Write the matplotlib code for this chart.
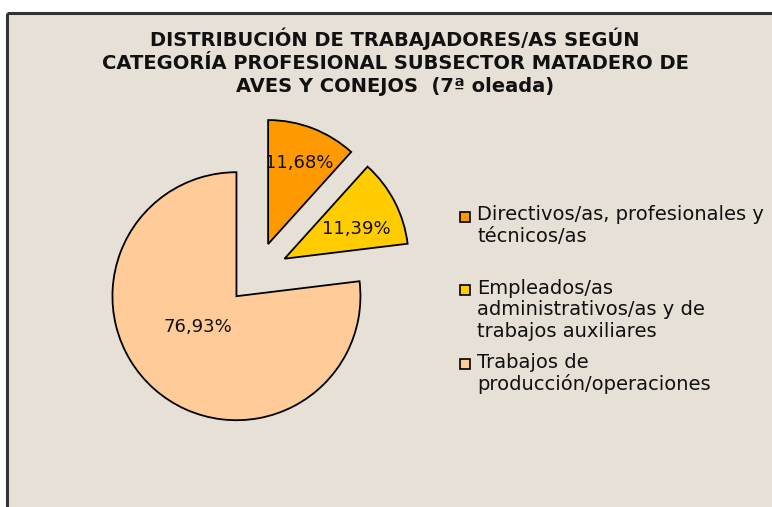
import matplotlib
matplotlib.use("Agg")
import matplotlib.pyplot as plt
from matplotlib.patches import Rectangle
import numpy as np

# ---- data ----
categories = [
    "Directivos/as, profesionales y\ntécnicos/as",
    "Empleados/as\nadministrativos/as y de\ntrabajos auxiliares",
    "Trabajos de\nproducción/operaciones",
]
values = [11.68, 11.39, 76.93]
colors = ["#FF9900", "#FFCC00", "#FFCC99"]
title = ("DISTRIBUCIÓN DE TRABAJADORES/AS SEGÚN\n"
         "CATEGORÍA PROFESIONAL SUBSECTOR MATADERO DE\n"
         "AVES Y CONEJOS  (7ª oleada)")

W, H = 772, 507
fig = plt.figure(figsize=(W / 100, H / 100), dpi=100)
fig.patch.set_facecolor("white")
ax = fig.add_axes([0, 0, 1, 1])
ax.set_xlim(0, W)
ax.set_ylim(0, H)
ax.set_aspect("equal")
ax.axis("off")

def py(y):  # pixel row -> data y
    return H - y

# chart area background + border
bg = "#E6E0D6"
ax.add_patch(Rectangle((7, 0), W - 7, py(13), facecolor=bg, edgecolor="none", zorder=0))
ax.plot([7, 7], [0, py(13)], color="#333333", lw=2.2, zorder=1, solid_capstyle="butt")
ax.plot([7, W], [py(13), py(13)], color="#333333", lw=2.2, zorder=1, solid_capstyle="butt")

# pie
cx, cy, R = 257, py(273), 124
explode_frac = 0.25
wedges, texts, autotexts = ax.pie(
    values, colors=colors, explode=[explode_frac * R] * len(values),
    startangle=90, counterclock=False,
    center=(cx, cy), radius=R, frame=True,
    wedgeprops=dict(edgecolor="black", linewidth=1.3),
    autopct=lambda p: f"{p:.2f}%".replace(".", ","),
    textprops=dict(fontsize=13, color="#111111", family="DejaVu Sans"),
)
label_dist = [0.70, 0.63, 0.40]
label_rot = [0, -5, -10]
for w, t, d, r in zip(wedges, autotexts, label_dist, label_rot):
    mid = np.deg2rad((w.theta1 + w.theta2) / 2 + r)
    x0, y0 = w.center
    t.set_position((x0 + R * d * np.cos(mid), y0 + R * d * np.sin(mid)))
    t.set_ha("center"); t.set_va("center")
ax.set_xlim(0, W)
ax.set_ylim(0, H)
ax.axis("off")

# title
ax.text(395, py(62), title, ha="center", va="center", multialignment="center",
        fontsize=14, fontweight="bold", family="DejaVu Sans", color="#111111",
        linespacing=1.25)

# legend (manual)
leg_x_box, leg_x_text = 460, 477
entry_tops = [217, 290, 364]
for cat, col, ytop in zip(categories, colors, entry_tops):
    ax.add_patch(Rectangle((leg_x_box, py(ytop) - 5), 10, 10, facecolor=col,
                           edgecolor="black", lw=1.2, zorder=3))
    ax.text(leg_x_text, py(ytop) + 11.5, cat, ha="left", va="top", fontsize=14,
            family="DejaVu Sans", color="#111111", linespacing=1.17)

fig.savefig("out.png", dpi=100, facecolor="white")
